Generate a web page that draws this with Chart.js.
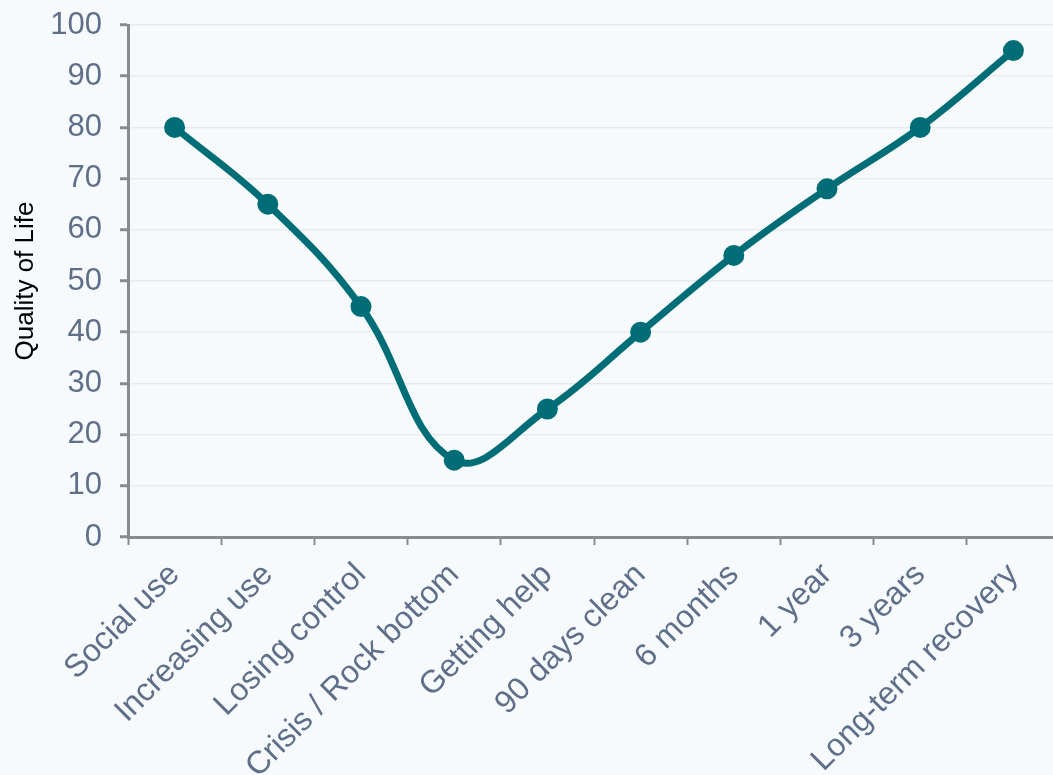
<!DOCTYPE html>
<html>
<head>
<meta charset="utf-8">
<script src="https://cdn.jsdelivr.net/npm/chart.js@4"></script>
<style>
  html, body { margin: 0; padding: 0; background: #f7fafc; overflow: hidden; }
  #wrap { width: 1060px; height: 775px; position: relative; }
</style>
</head>
<body>
<div id="wrap"><canvas id="chart"></canvas></div>
<script>
// Etapas e valores
var stages = ['Social use', 'Increasing use', 'Losing control', 'Crisis / Rock bottom',
  'Getting help', '90 days clean', '6 months', '1 year', '3 years', 'Long-term recovery'];
var quality = [80, 65, 45, 15, 25, 40, 55, 68, 80, 95];

var teal = '#006d77';
var tickText = '#5f6f89';
var axisGray = '#8a8a8a';

var ctx = document.getElementById('chart').getContext('2d');

var chart = new Chart(ctx, {
  type: 'line',
  data: {
    labels: stages,
    datasets: [{
      label: 'Quality of Life',
      data: quality,
      borderColor: teal,
      backgroundColor: teal,
      borderWidth: 7,
      pointRadius: 7,
      pointHoverRadius: 7,
      tension: 0.4,
      fill: false
    }]
  },
  options: {
    responsive: true,
    maintainAspectRatio: false,
    animation: false,
    layout: { autoPadding: false, padding: { top: 0, left: 10, right: 0, bottom: 0 } },
    plugins: {
      legend: { display: false },
      tooltip: { enabled: false }
    },
    scales: {
      x: {
        offset: true,
        // altura fixa do eixo e sem folga lateral para os rótulos inclinados
        afterFit: function(scale) {
          scale.height = 238;
          scale.paddingLeft = 0;
          scale.paddingRight = 0;
        },
        grid: {
          display: true,
          offset: true,
          drawOnChartArea: false,
          tickColor: axisGray,
          tickLength: 8,
          tickWidth: 2
        },
        border: { color: axisGray, width: 3 },
        ticks: {
          color: tickText,
          font: { family: 'Liberation Sans, Arial, sans-serif', size: 32 },
          maxRotation: 45,
          minRotation: 45,
          padding: 11,
          autoSkip: false
        }
      },
      y: {
        min: 0,
        max: 100,
        afterFit: function(scale) {
          scale.width = 118;
          scale.paddingTop = 25;
        },
        ticks: {
          stepSize: 10,
          color: tickText,
          font: { family: 'Liberation Sans, Arial, sans-serif', size: 31 },
          padding: 18
        },
        grid: {
          color: '#e6ebf0',
          lineWidth: 1.5,
          tickColor: axisGray,
          tickLength: 8,
          tickWidth: 3
        },
        border: { color: axisGray, width: 3 },
        title: {
          display: true,
          text: 'Quality of Life',
          color: '#000000',
          font: { family: 'Liberation Sans, Arial, sans-serif', size: 26 },
          padding: { top: 0, bottom: 9 }
        }
      }
    }
  }
});
</script>
</body>
</html>
